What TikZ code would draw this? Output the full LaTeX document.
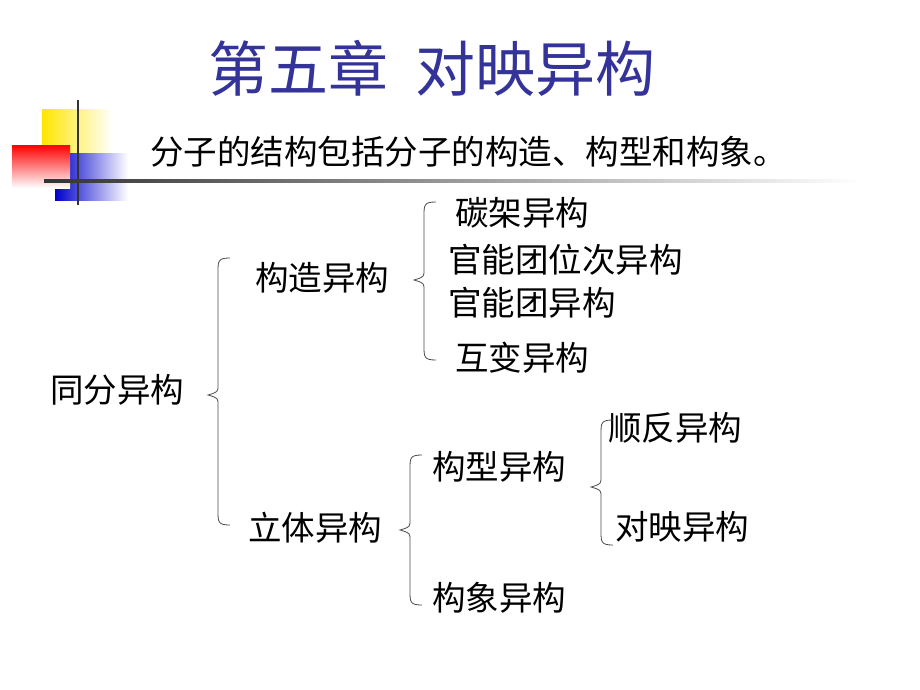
\documentclass[tikz,border=0pt]{standalone}
\usepackage{fontspec}
\newfontfamily\cjk{Noto Sans CJK SC}
\begin{document}
\begin{tikzpicture}[x=1pt,y=-1pt,
  lbl/.style={font=\cjk\fontsize{33.5}{34}\selectfont, anchor=west, inner sep=0pt},
  br/.style={draw=black!70, line width=0.8pt}]
\useasboundingbox (0,0) rectangle (920,690);
\definecolor{ttl}{HTML}{333399}
% decoration
\shade[left color=yellow!80!orange, right color=white] (42,110) rectangle (112,153);
\shade[left color=blue!80!black, right color=white] (55,153) rectangle (128,200);
\shade[shading=axis, shading angle=135, top color=red, bottom color=white] (12,145) rectangle (70,188);
\draw[line width=2.5pt, black!80] (78,100) -- (78,205);
\shade[left color=black!80, right color=white] (44,179.5) rectangle (860,182.5);
% title
\node[font=\cjk\fontsize{60}{60}\selectfont, text=ttl, inner sep=0pt] (t) at (432,68) {第五章\ \ 对映异构};
\node[lbl] (s) at (150,152) {分子的结构包括分子的构造、构型和构象。};
% nodes
\node[lbl] (a) at (50,390) {同分异构};
\node[lbl] (b) at (255,278) {构造异构};
\node[lbl] (c) at (248,528) {立体异构};
\node[lbl] (b1) at (455,213) {碳架异构};
\node[lbl] (b2) at (448,260) {官能团位次异构};
\node[lbl] (b3) at (448,303) {官能团异构};
\node[lbl] (b4) at (455,358) {互变异构};
\node[lbl] (c1) at (432,467) {构型异构};
\node[lbl] (c2) at (432,598) {构象异构};
\node[lbl] (d1) at (608,428) {顺反异构};
\node[lbl] (d2) at (615,527) {对映异构};
% braces
\newcommand{\brc}[4]{% x, ytop, ymid, ybot
  \draw[br] (#1+12,#2) .. controls (#1,#2) and (#1,#2+3) .. (#1,#2+14) -- (#1,#3-10)
    .. controls (#1,#3-3) .. (#1-10,#3) .. controls (#1,#3+3) .. (#1,#3+10) -- (#1,#4-14)
    .. controls (#1,#4-3) and (#1,#4) .. (#1+12,#4);}
\brc{218}{258}{395}{525}
\brc{424}{202}{280}{360}
\brc{410}{455}{530}{605}
\brc{601}{420}{487}{545}
\end{tikzpicture}
\end{document}
